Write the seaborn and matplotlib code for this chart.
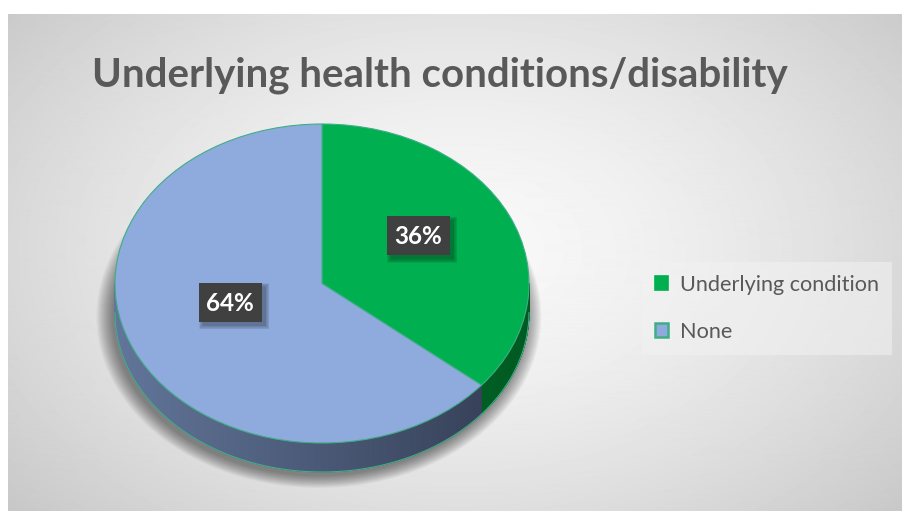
import numpy as np
import matplotlib
matplotlib.use("Agg")
import matplotlib.pyplot as plt
from matplotlib.patches import Patch, Rectangle, Ellipse
from matplotlib.collections import PolyCollection
from matplotlib.colors import to_rgb
import seaborn as sns

# ---- data -------------------------------------------------------------
categories = ["Underlying condition", "None"]
shares = [36, 64]
slice_colors = ["#00b050", "#8faadc"]
wall_light = ["#007a30", "#62759a"]
wall_dark = ["#005a22", "#323c52"]
chart_title = "Underlying health conditions/disability"

# ---- style ------------------------------------------------------------
sns.set_theme(style="white")
plt.rcParams["font.family"] = ["Lato", "DejaVu Sans"]
TEXT_GREY = "#595959"
EDGE = "#3fae86"

W, H = 903, 511
fig = plt.figure(figsize=(W / 100, H / 100), dpi=100, facecolor="white")


def px_box(x0, y0, x1, y1):
    """Pixel rectangle (top-left origin) -> figure-fraction axes rect."""
    return [x0 / W, 1 - y1 / H, (x1 - x0) / W, (y1 - y0) / H]


# chart-area background: soft radial grey gradient
bg = fig.add_axes(px_box(8, 14, W, H))
yy, xx = np.mgrid[0:497, 0:895]
r = np.sqrt(((xx - 452) / 600.0) ** 2 + ((yy - 236) / 400.0) ** 2)
shade = 0.975 - 0.195 * np.clip(r, 0, 1) ** 1.5
bg.imshow(shade, cmap="gray", vmin=0, vmax=1, aspect="auto",
          interpolation="bilinear")
bg.axis("off")

# ---- pie (unit circle squashed into an ellipse by the axes box) --------
cx, cy, rx, ry = 322.0, 283.5, 207.0, 159.5
lim = 1.3
ax = fig.add_axes(px_box(cx - lim * rx, cy - lim * ry, cx + lim * rx, cy + lim * ry))
wedges, _ = ax.pie(shares, colors=slice_colors, startangle=90, counterclock=False,
                   wedgeprops=dict(edgecolor=EDGE, linewidth=0.8, zorder=3))
ax.set_aspect("auto")
ax.set_xlim(-lim, lim)
ax.set_ylim(-lim, lim)
ax.axis("off")
ax.patch.set_visible(False)

depth = 29.0 / ry

# soft drop shadow under the disc
for i in range(16):
    s = 1.0 + 0.005 * i
    ax.add_patch(Ellipse((-0.015, -depth - 0.025), 2 * s, 2 * s,
                         facecolor="black", edgecolor="none",
                         alpha=0.03, zorder=0))

# side wall of each slice (only the front half is visible)
for w, lo, hi in zip(wedges, wall_light, wall_dark):
    ts = np.deg2rad(np.linspace(w.theta1, w.theta2, 600))
    ts = ts[np.sin(ts) <= 1e-9]
    if len(ts) < 2:
        continue
    c_lo, c_hi = np.array(to_rgb(lo)), np.array(to_rgb(hi))
    quads, cols = [], []
    for a, b in zip(ts[:-1], ts[1:]):
        quads.append([(np.cos(a), np.sin(a)), (np.cos(b), np.sin(b)),
                      (np.cos(b), np.sin(b) - depth), (np.cos(a), np.sin(a) - depth)])
        f = (np.cos((a + b) / 2) + 1) / 2
        cols.append(tuple(c_lo * (1 - f) + c_hi * f))
    ax.add_collection(PolyCollection(quads, facecolors=cols, edgecolors=cols,
                                     linewidths=0.6, zorder=2))
    ax.plot(np.cos(ts), np.sin(ts) - depth, color=EDGE, lw=0.8, zorder=2.5)

# ---- overlay in pixel coordinates for labels, legend and title ---------
ov = fig.add_axes([0, 0, 1, 1])
ov.set_xlim(0, W)
ov.set_ylim(H, 0)
ov.axis("off")
ov.patch.set_visible(False)

# data labels (position of each label inside its slice, in pie units)
label_xy = [(0.464, 0.298), (-0.444, -0.116)]
box_w, box_h = 63, 39
for v, (lx, ly) in zip(shares, label_xy):
    px = cx + lx * rx
    py = cy - ly * ry
    for k in range(6):
        grow = 1.5 * k
        ov.add_patch(Rectangle((px - box_w / 2 + 4 - grow / 2, py - box_h / 2 + 4 - grow / 2),
                               box_w + grow, box_h + grow, facecolor="black",
                               edgecolor="none", alpha=0.06, zorder=4))
    ov.add_patch(Rectangle((px - box_w / 2, py - box_h / 2), box_w, box_h,
                           facecolor="#404040", edgecolor="none", zorder=5))
    ov.text(px, py + 1, f"{v}%", ha="center", va="center", color="white",
            fontsize=17.5, fontweight="bold", zorder=6)

# title
ov.text(440, 86, chart_title, ha="center", va="baseline", color=TEXT_GREY,
        fontsize=29, fontweight="bold")

# legend
handles = [Patch(facecolor=slice_colors[0], edgecolor=slice_colors[0], linewidth=1.2),
           Patch(facecolor=slice_colors[1], edgecolor=EDGE, linewidth=1.8)]
leg = ov.legend(handles, categories, loc="upper left",
                bbox_to_anchor=(642 / W, 1 - 262 / H), bbox_transform=fig.transFigure,
                fontsize=15.6, labelcolor=TEXT_GREY, frameon=True, fancybox=False,
                handlelength=0.62, handleheight=0.62, handletextpad=0.55,
                labelspacing=1.25, borderpad=0.6, borderaxespad=0)
leg.get_frame().set_facecolor("#f2f2f2")
leg.get_frame().set_alpha(0.55)
leg.get_frame().set_edgecolor("none")

fig.savefig("out.png", dpi=100, facecolor="white")
